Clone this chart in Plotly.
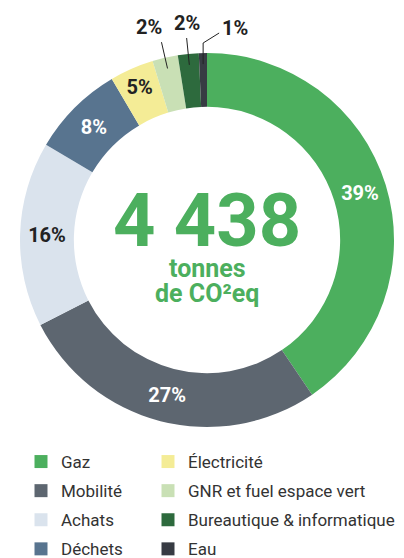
import math
import plotly.graph_objects as go

# ---- data ----
categories = ["Gaz", "Mobilité", "Achats", "Déchets", "Électricité",
              "GNR et fuel espace vert", "Bureautique & informatique", "Eau"]
# arc shares as drawn in the picture (%)
shares = [40.5, 27, 16, 8, 3.8, 2.2, 1.8, 0.7]
# percentages printed on the chart
pct_labels = [39, 27, 16, 8, 5, 2, 2, 1]
colors = ["#4CAF5E", "#5D6670", "#DAE3ED", "#58748F", "#F4EC96",
          "#C9E0B5", "#2D6A3D", "#373B43"]
label_colors = ["white", "white", "#222222", "white", "#222222",
                "#222222", "#222222", "#222222"]
inside = [True, True, True, True, True, False, False, False]
total_value = "4 438"
unit_line1 = "tonnes"
unit_line2 = "de CO²eq"
legend_col1 = ["Gaz", "Mobilité", "Achats", "Déchets"]
legend_col2 = ["Électricité", "GNR et fuel espace vert",
               "Bureautique & informatique", "Eau"]

W, H = 404, 558
CX, CY, R = 207, 240, 187
FONT = "Roboto"
GREEN = "#4CAF5E"

texts = [f"{v}%" if ins else "" for v, ins in zip(pct_labels, inside)]

fig = go.Figure()
fig.add_trace(go.Pie(
    labels=categories, values=shares, sort=False, direction="clockwise",
    rotation=0, hole=0.712,
    marker=dict(colors=colors, line=dict(width=0)),
    text=texts, textinfo="text", textposition="inside",
    insidetextorientation="horizontal",
    textfont=dict(family=FONT, size=20, color=label_colors, weight=700),
    domain=dict(x=[(CX - R) / W, (CX + R) / W],
                y=[1 - (CY + R) / H, 1 - (CY - R) / H]),
    showlegend=False, hoverinfo="label+text",
))

# legend entries (two columns)
cmap = dict(zip(categories, colors))
for i, name in enumerate(legend_col1):
    fig.add_trace(go.Scatter(x=[None], y=[None], mode="markers", name=name,
                             marker=dict(symbol="square", size=13, color=cmap[name]),
                             legend="legend", legendgroup=f"a{i}"))
for i, name in enumerate(legend_col2):
    fig.add_trace(go.Scatter(x=[None], y=[None], mode="markers", name=name,
                             marker=dict(symbol="square", size=13, color=cmap[name]),
                             legend="legend2", legendgroup=f"b{i}"))

# positions derived from the data angles
tot = sum(shares)
cum = [sum(shares[:i]) for i in range(len(shares))]


def polar(frac, r):
    a = 2 * math.pi * frac
    return CX + r * math.sin(a), CY - r * math.cos(a)


def paper(px, py):
    return px / W, 1 - py / H


shapes = []
annotations = []
line_style = dict(color="#222222", width=1)
lbl_font = dict(family=FONT, size=20, color="#222222", weight=700)
for i in range(len(shares)):
    if inside[i]:
        continue
    mid = (cum[i] + shares[i] / 2) / tot
    x0, y0 = polar(mid, 176)
    if i == len(shares) - 1:
        # elbow leader
        x1, y1 = x0, 43
        x2, y2 = x0 + 16, 33
        p0, p1, p2 = paper(x0, y0), paper(x1, y1), paper(x2, y2)
        shapes.append(dict(type="path", xref="paper", yref="paper",
                           path=f"M {p0[0]},{p0[1]} L {p1[0]},{p1[1]} L {p2[0]},{p2[1]}",
                           line=line_style))
        tx, ty = paper(x2 + 1, y2 - 5)
        annotations.append(dict(x=tx, y=ty, xref="paper", yref="paper",
                                text=f"{pct_labels[i]}%", showarrow=False,
                                xanchor="left", yanchor="middle", font=lbl_font))
    else:
        x1, y1 = polar(mid, 203)
        p0, p1 = paper(x0, y0), paper(x1, y1)
        shapes.append(dict(type="line", xref="paper", yref="paper",
                           x0=p0[0], y0=p0[1], x1=p1[0], y1=p1[1], line=line_style))
        right = (i == 5)
        tx, ty = paper(x1 + (3 if right else 0), y1 - 1)
        annotations.append(dict(x=tx, y=ty, xref="paper", yref="paper",
                                text=f"{pct_labels[i]}%", showarrow=False,
                                xanchor="right" if right else "center",
                                yanchor="bottom", font=lbl_font))

# centre text
annotations.append(dict(x=CX / W, y=1 - 220.5 / H, xref="paper", yref="paper",
                        text=total_value, showarrow=False, xanchor="center", yanchor="middle",
                        font=dict(family=FONT, size=74, color=GREEN, weight=700)))
annotations.append(dict(x=CX / W, y=1 - 269 / H, xref="paper", yref="paper",
                        text=unit_line1, showarrow=False, xanchor="center", yanchor="middle",
                        font=dict(family=FONT, size=25, color=GREEN, weight=700)))
annotations.append(dict(x=CX / W, y=1 - 293 / H, xref="paper", yref="paper",
                        text=unit_line2, showarrow=False, xanchor="center", yanchor="middle",
                        font=dict(family=FONT, size=25, color=GREEN, weight=700)))

legend_font = dict(family=FONT, size=17, color="#333333")
fig.update_layout(
    width=W, height=H,
    margin=dict(l=0, r=0, t=0, b=0, autoexpand=False),
    paper_bgcolor="white", plot_bgcolor="white",
    xaxis=dict(visible=False), yaxis=dict(visible=False),
    shapes=shapes, annotations=annotations,
    legend=dict(x=21 / W, y=1 - 444 / H, xanchor="left", yanchor="top",
                orientation="v", font=legend_font, tracegroupgap=4,
                bgcolor="rgba(0,0,0,0)"),
    legend2=dict(x=148 / W, y=1 - 444 / H, xanchor="left", yanchor="top",
                 orientation="v", font=legend_font, tracegroupgap=4,
                 bgcolor="rgba(0,0,0,0)"),
)

fig.write_html("out.html", config={"displayModeBar": False},
               post_script="document.body.style.margin='0';")
